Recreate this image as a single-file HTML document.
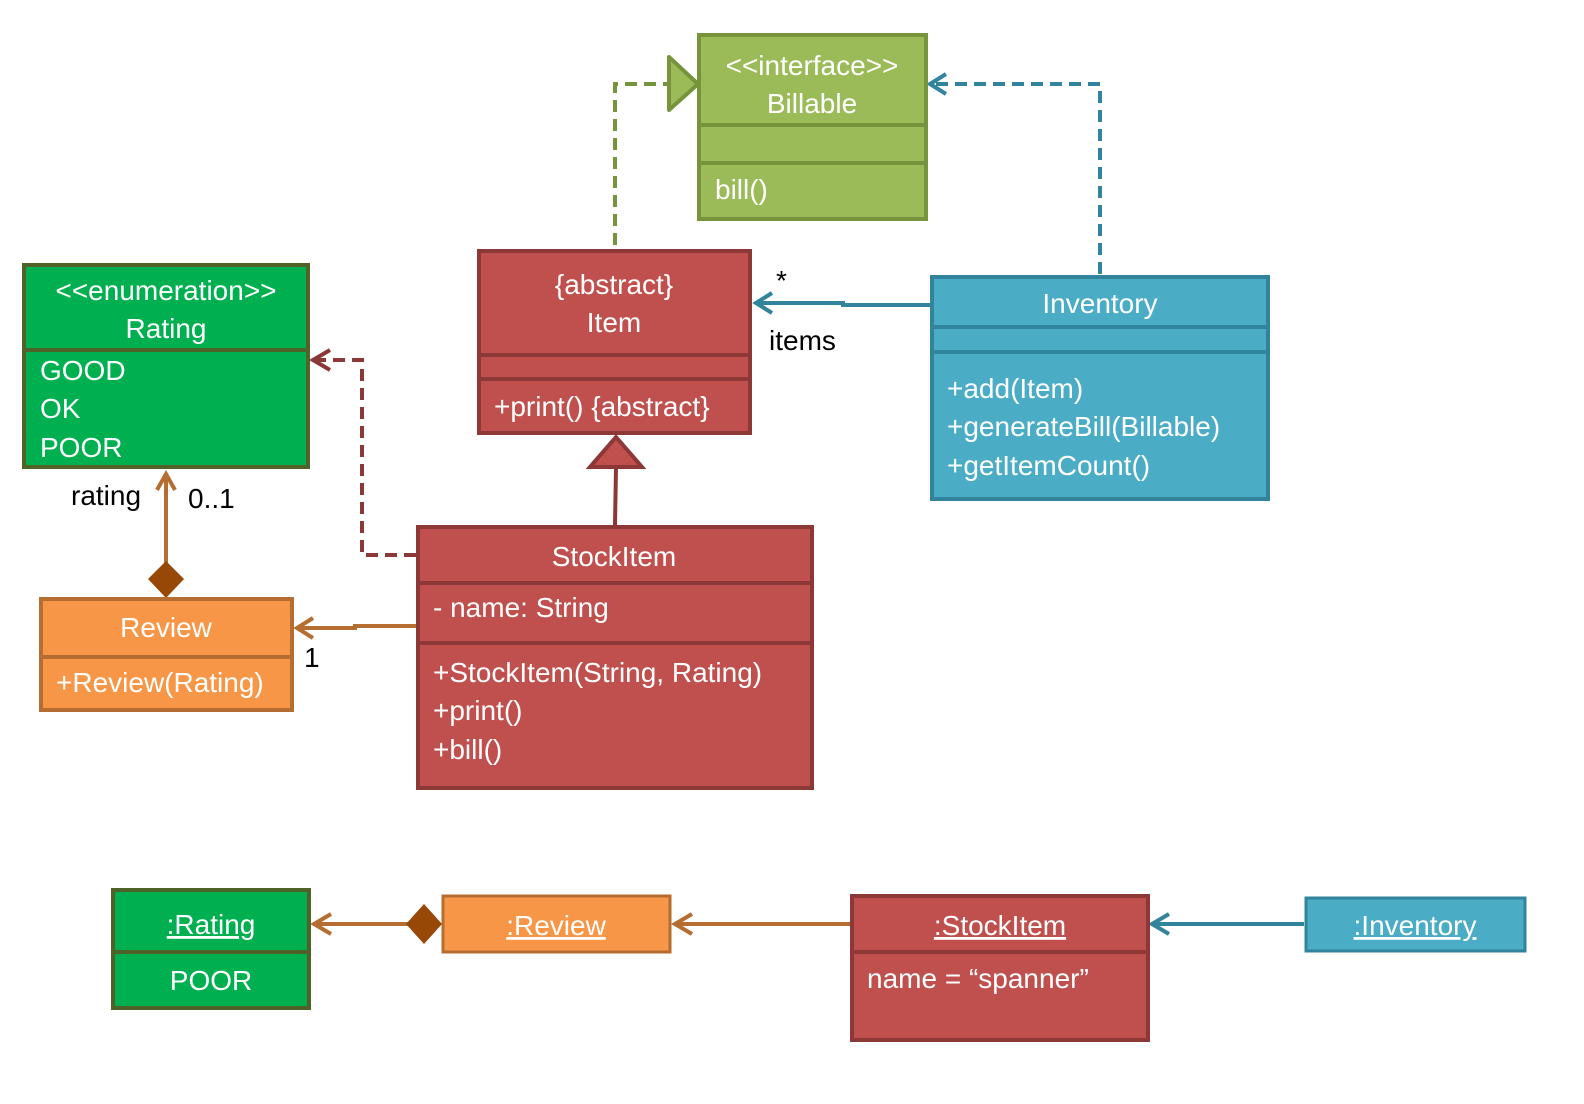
<!DOCTYPE html>
<html><head><meta charset="utf-8"><style>
html,body{margin:0;padding:0;background:#fff;}
svg{display:block;}
text{font-family:"Liberation Sans",sans-serif;font-size:28px;}
.w{fill:#fff;}
.k{fill:#000;}
</style></head><body>
<svg width="1584" height="1104" viewBox="0 0 1584 1104" xmlns="http://www.w3.org/2000/svg">
<polyline points="615,245 615,84 668,84" fill="none" stroke="#77933C" stroke-width="4" stroke-dasharray="12,7"/>
<polygon points="669,57 698,84 669,110" fill="#9BBB59" stroke="#77933C" stroke-width="4" stroke-linejoin="round"/>
<polyline points="1100,274 1100,84 932,84" fill="none" stroke="#31849B" stroke-width="4" stroke-dasharray="12,7"/>
<polyline points="946,74 930,84 946,94" fill="none" stroke="#31849B" stroke-width="4"/>
<polyline points="930,305 843,305 843,303 755,303" fill="none" stroke="#31849B" stroke-width="4"/>
<polyline points="772,293 756,303 772,313" fill="none" stroke="#31849B" stroke-width="4"/>
<text x="776" y="290" class="k">*</text>
<text x="769" y="350" class="k">items</text>
<line x1="615" y1="525" x2="616" y2="467" stroke="#8C3836" stroke-width="4"/>
<polygon points="616,437 642,467 590,467" fill="#C0504D" stroke="#8C3836" stroke-width="4"/>
<polyline points="416,555 362,555 362,360 314,360" fill="none" stroke="#8C3836" stroke-width="4" stroke-dasharray="12,7"/>
<polyline points="330,350 313,360 330,370" fill="none" stroke="#8C3836" stroke-width="4"/>
<line x1="166" y1="565" x2="166" y2="475" stroke="#B66D31" stroke-width="4"/>
<polyline points="157,490 166,474 175,490" fill="none" stroke="#B66D31" stroke-width="4"/>
<polygon points="166,561 184,579 166,598 148,579" fill="#974806"/>
<text x="71" y="505" class="k">rating</text>
<text x="188" y="508" class="k">0..1</text>
<polyline points="416,626 355,626 355,628 297,628" fill="none" stroke="#B66D31" stroke-width="4"/>
<polyline points="313,618 297,628 313,638" fill="none" stroke="#B66D31" stroke-width="4"/>
<text x="304" y="667" class="k">1</text>
<line x1="408" y1="924" x2="315" y2="924" stroke="#B66D31" stroke-width="4"/>
<polyline points="331,914 314,924 331,934" fill="none" stroke="#B66D31" stroke-width="4"/>
<polygon points="406,924 424,904 442,924 424,944" fill="#974806"/>
<line x1="850" y1="924" x2="676" y2="924" stroke="#B66D31" stroke-width="4"/>
<polyline points="692,914 675,924 692,934" fill="none" stroke="#B66D31" stroke-width="4"/>
<line x1="1304" y1="924" x2="1153" y2="924" stroke="#31849B" stroke-width="4"/>
<polyline points="1169,914 1152,924 1169,934" fill="none" stroke="#31849B" stroke-width="4"/>

<g stroke="#77933C" stroke-width="4" fill="#9BBB59">
<rect x="699" y="35" width="227" height="184"/>
<line x1="699" y1="125" x2="926" y2="125"/><line x1="699" y1="163" x2="926" y2="163"/>
</g>
<text x="812" y="75" text-anchor="middle" class="w">&lt;&lt;interface&gt;&gt;</text>
<text x="812" y="113" text-anchor="middle" class="w">Billable</text>
<text x="715" y="199" class="w">bill()</text>

<g stroke="#8C3836" stroke-width="4" fill="#C0504D">
<rect x="479" y="251" width="271" height="182"/>
<line x1="479" y1="355" x2="750" y2="355"/><line x1="479" y1="379" x2="750" y2="379"/>
</g>
<text x="614" y="294" text-anchor="middle" class="w">{abstract}</text>
<text x="614" y="332" text-anchor="middle" class="w">Item</text>
<text x="494" y="416" class="w">+print() {abstract}</text>

<g stroke="#4F6228" stroke-width="4" fill="#00B050">
<rect x="24" y="265" width="284" height="202"/>
<line x1="24" y1="350" x2="308" y2="350"/>
</g>
<text x="166" y="300" text-anchor="middle" class="w">&lt;&lt;enumeration&gt;&gt;</text>
<text x="166" y="338" text-anchor="middle" class="w">Rating</text>
<text x="40" y="380" class="w">GOOD</text>
<text x="40" y="418" class="w">OK</text>
<text x="40" y="457" class="w">POOR</text>

<g stroke="#31849B" stroke-width="4" fill="#4BACC6">
<rect x="932" y="277" width="336" height="222"/>
<line x1="932" y1="327" x2="1268" y2="327"/><line x1="932" y1="352" x2="1268" y2="352"/>
</g>
<text x="1100" y="313" text-anchor="middle" class="w">Inventory</text>
<text x="947" y="398" class="w">+add(Item)</text>
<text x="947" y="436" class="w">+generateBill(Billable)</text>
<text x="947" y="475" class="w">+getItemCount()</text>

<g stroke="#8C3836" stroke-width="4" fill="#C0504D">
<rect x="418" y="527" width="394" height="261"/>
<line x1="418" y1="583" x2="812" y2="583"/><line x1="418" y1="643" x2="812" y2="643"/>
</g>
<text x="614" y="566" text-anchor="middle" class="w">StockItem</text>
<text x="433" y="617" class="w">- name: String</text>
<text x="433" y="682" class="w">+StockItem(String, Rating)</text>
<text x="433" y="720" class="w">+print()</text>
<text x="433" y="759" class="w">+bill()</text>

<g stroke="#B66D31" stroke-width="4" fill="#F79646">
<rect x="41" y="599" width="251" height="111"/>
<line x1="41" y1="657" x2="292" y2="657"/>
</g>
<text x="166" y="637" text-anchor="middle" class="w">Review</text>
<text x="56" y="692" class="w">+Review(Rating)</text>

<g stroke="#4F6228" stroke-width="4" fill="#00B050">
<rect x="113" y="890" width="196" height="118"/>
<line x1="113" y1="952" x2="309" y2="952"/>
</g>
<text x="211" y="934" text-anchor="middle" class="w" text-decoration="underline">:Rating</text>
<text x="211" y="990" text-anchor="middle" class="w">POOR</text>

<rect x="443" y="896" width="227" height="56" fill="#F79646" stroke="#B66D31" stroke-width="3"/>
<text x="556" y="935" text-anchor="middle" class="w" text-decoration="underline">:Review</text>

<g stroke="#8C3836" stroke-width="4" fill="#C0504D">
<rect x="852" y="896" width="296" height="144"/>
<line x1="852" y1="952" x2="1148" y2="952"/>
</g>
<text x="1000" y="935" text-anchor="middle" class="w" text-decoration="underline">:StockItem</text>
<text x="867" y="988" class="w">name = “spanner”</text>

<rect x="1306" y="898" width="219" height="53" fill="#4BACC6" stroke="#31849B" stroke-width="3"/>
<text x="1415" y="935" text-anchor="middle" class="w" text-decoration="underline">:Inventory</text>
</svg>
</body></html>
